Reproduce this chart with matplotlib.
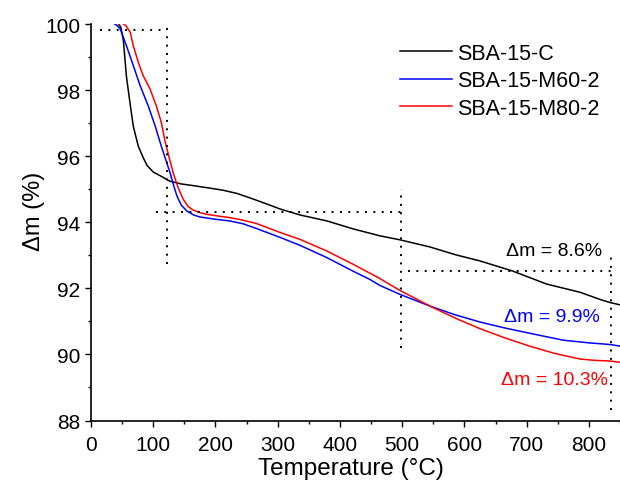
import matplotlib
matplotlib.use("Agg")
import matplotlib.pyplot as plt
from matplotlib.ticker import MultipleLocator

plt.rcParams['font.family'] = ['Liberation Sans', 'DejaVu Sans']

# ---- data ----
T_c = [44, 48, 52, 57, 62, 68, 76, 84, 90, 100, 110, 127, 145, 160, 185, 212, 235,
       255, 280, 304, 336, 379, 421, 464, 496, 545, 585, 625, 678, 732, 786, 820, 834, 850]
m_c = [100.0, 99.9, 99.5, 98.4, 97.7, 96.9, 96.3, 95.95, 95.72, 95.52, 95.42, 95.24,
       95.16, 95.12, 95.05, 94.97, 94.87, 94.74, 94.57, 94.40, 94.22, 94.04, 93.80,
       93.59, 93.47, 93.25, 93.02, 92.83, 92.52, 92.13, 91.88, 91.65, 91.57, 91.5]

T_m60 = [38, 42, 47, 57, 68, 79, 92, 103, 113, 120, 127, 133, 138, 145, 154, 165, 175,
         200, 223, 245, 266, 304, 336, 379, 421, 448, 464, 496, 545, 585, 625, 665, 705,
         759, 800, 834, 850]
m_m60 = [100.0, 99.95, 99.85, 99.34, 98.74, 98.13, 97.52, 96.92, 96.3, 95.9, 95.5, 95.1,
         94.8, 94.52, 94.34, 94.22, 94.16, 94.09, 94.04, 93.95, 93.81, 93.54, 93.30,
         92.93, 92.52, 92.27, 92.09, 91.82, 91.46, 91.2, 90.98, 90.8, 90.64, 90.43,
         90.35, 90.30, 90.25]

T_m80 = [44, 50, 56, 63, 68, 76, 84, 95, 105, 113, 119, 125, 132, 140, 148, 156, 164,
         175, 186, 200, 223, 245, 266, 304, 336, 379, 421, 462, 496, 545, 585, 625, 665,
         705, 745, 786, 810, 834, 850]
m_m80 = [100.0, 100.03, 99.95, 99.75, 99.34, 98.84, 98.43, 98.03, 97.52, 97.02, 96.45,
         96.0, 95.5, 95.05, 94.7, 94.48, 94.37, 94.29, 94.24, 94.2, 94.14, 94.06, 93.96,
         93.69, 93.48, 93.13, 92.73, 92.32, 91.94, 91.46, 91.1, 90.78, 90.5, 90.25,
         90.03, 89.86, 89.82, 89.8, 89.76]

series_labels = ['SBA-15-C', 'SBA-15-M60-2', 'SBA-15-M80-2']
series_colors = ['black', 'blue', 'red']

# dotted guide lines
guide_h = [(14, 122, 99.82), (105, 501, 94.32), (510, 835, 92.52)]   # (x0, x1, y)
guide_v = [(121.5, 92.73, 99.9), (498, 90.18, 95.0), (835, 88.33, 93.0)]  # (x, y0, y1)

annotations = [('Δm = 8.6%', 822, 93.13, 'black'),
               ('Δm = 9.9%', 818, 91.14, 'blue'),
               ('Δm = 10.3%', 830, 89.24, 'red')]

xticks = list(range(0, 900, 100))
yticks = list(range(88, 101, 2))

# ---- figure ----
fig = plt.figure(figsize=(6.2, 4.89), dpi=100)
ax = fig.add_axes([91 / 620, 67.5 / 489, 529 / 620, 396.5 / 489])

for T, m, lab, col in zip([T_c, T_m60, T_m80], [m_c, m_m60, m_m80], series_labels, series_colors):
    ax.plot(T, m, color=col, lw=1.1, label=lab)

for x0, x1, y in guide_h:
    ax.plot([x0, x1], [y, y], color='black', lw=1.4, ls=(0, (1, 3.3)))
for x, y0, y1 in guide_v:
    ax.plot([x, x], [y0, y1], color='black', lw=1.4, ls=(0, (1, 3.3)))

for txt, x, y, col in annotations:
    ax.text(x, y, txt, color=col, fontsize=14, ha='right', va='center')

ax.set_xlim(0, 850)
ax.set_ylim(88, 100)
ax.set_xticks(xticks)
ax.set_yticks(yticks)
ax.xaxis.set_minor_locator(MultipleLocator(50))
ax.yaxis.set_minor_locator(MultipleLocator(1))
ax.tick_params(which='major', direction='out', length=4.5, width=1.0, labelsize=15)
ax.tick_params(which='minor', direction='out', length=2.5, width=1.0)
ax.tick_params(axis='x', which='major', pad=6)
ax.tick_params(axis='y', which='major', pad=3)

for s in ['top', 'right']:
    ax.spines[s].set_visible(False)
for s in ['left', 'bottom']:
    ax.spines[s].set_linewidth(1.2)

ax.set_xlabel('Temperature (°C)', fontsize=17.5)
ax.set_ylabel('Δm (%)', fontsize=17)
ax.yaxis.set_label_coords(-0.087, 0.53)
ax.xaxis.set_label_coords(0.492, -0.092)

leg = ax.legend(loc='upper left', bbox_to_anchor=(0.585, 0.952), frameon=False,
                fontsize=15.5, handlelength=2.4, handletextpad=0.22, labelspacing=0.3,
                borderpad=0, borderaxespad=0)

fig.savefig('out.png', dpi=100)
